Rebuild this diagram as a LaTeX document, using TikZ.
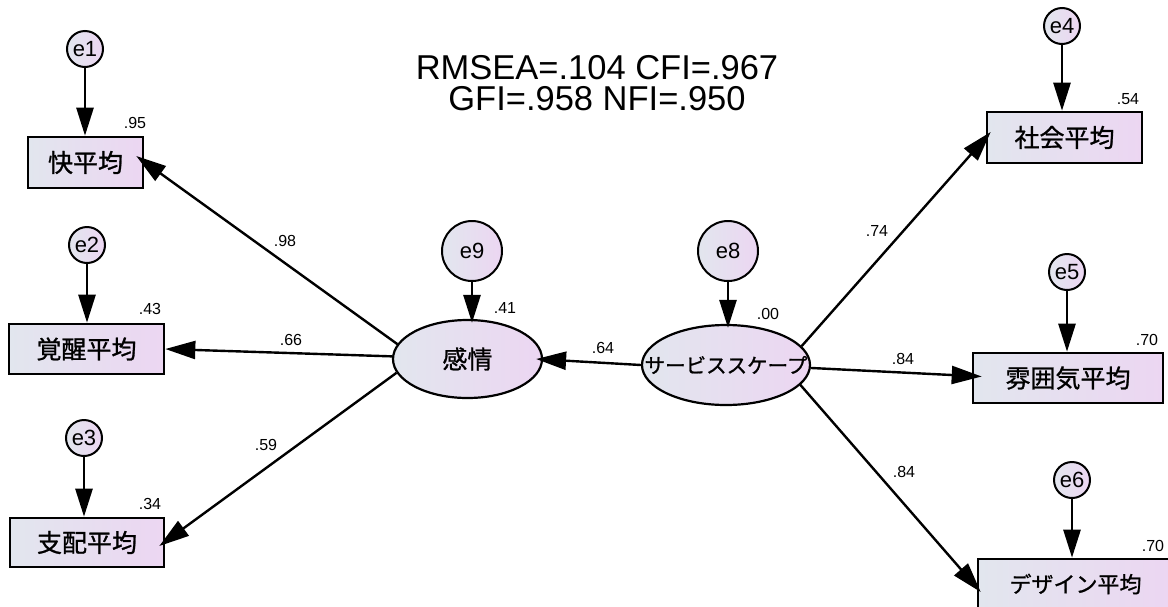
\documentclass[tikz,border=0pt]{standalone}
\usepackage{fontspec}
\setmainfont{Liberation Sans}
\newfontfamily\jp[FakeBold=1]{Noto Sans CJK JP}
\usetikzlibrary{shapes.geometric,arrows.meta,calc}
\definecolor{gL}{RGB}{226,230,238}
\definecolor{gR}{RGB}{236,214,242}
\begin{document}
\begin{tikzpicture}[x=1pt,y=-1pt,
  obs/.style={draw, line width=2.6pt, rectangle, left color=gL, right color=gR,
    inner sep=0pt, font=\jp\fontsize{25}{25}\selectfont},
  lat/.style={draw, line width=2.2pt, ellipse, left color=gL, right color=gR,
    inner sep=0pt, font=\jp\fontsize{25}{25}\selectfont},
  err/.style={draw, line width=2pt, circle, left color=gL, right color=gR,
    inner sep=0pt, minimum size=36pt, font=\fontsize{22}{22}\selectfont},
  bigerr/.style={err, minimum size=60pt},
  errarrow/.style={line width=2.6pt, -{Triangle[length=28pt,width=17pt]}},
  patharrow/.style={line width=2.4pt, -{Triangle[length=30pt,width=18pt]}},
  num/.style={font=\fontsize{16}{16}\selectfont, inner sep=0pt},
  titletext/.style={font=\fontsize{34.5}{31}\selectfont, inner sep=0pt, align=center, anchor=north},
]
\useasboundingbox[fill=white] (0,0) rectangle (1168,606);

% title
\node[titletext] (title) at (597,55) {RMSEA=.104 CFI=.967\\GFI=.958 NFI=.950};

% observed variables
\node[obs, minimum width=115pt, minimum height=51pt] (kuai) at (85.5,162.5) {快平均};
\node[obs, minimum width=155pt, minimum height=50pt] (kakusei) at (86.5,349) {覚醒平均};
\node[obs, minimum width=154pt, minimum height=49pt] (shihai) at (87,542.5) {支配平均};
\node[obs, minimum width=155pt, minimum height=51pt] (shakai) at (1064.5,137.5) {社会平均};
\node[obs, minimum width=190pt, minimum height=50pt] (fun) at (1068,378) {雰囲気平均};
\node[obs, minimum width=195pt, minimum height=50pt, font=\jp\fontsize{22}{22}\selectfont] (dezain) at (1075.5,584) {デザイン平均};

% latent variables
\node[lat, minimum width=149pt, minimum height=78pt] (kanjo) at (467.5,359) {感情};
\node[lat, minimum width=168pt, minimum height=80pt,
  label={[font=\jp\fontsize{20.5}{20.5}\selectfont, inner sep=0pt]center:サービススケープ}] (svc) at (726,365) {};

% error terms
\node[err] (e1) at (85,49) {e1};
\node[err] (e2) at (87,245) {e2};
\node[err] (e3) at (84,438) {e3};
\node[err] (e4) at (1062,26) {e4};
\node[err] (e5) at (1067,272) {e5};
\node[err] (e6) at (1072,480) {e6};
\node[bigerr] (e9) at (472,251) {e9};
\node[bigerr] (e8) at (728,251) {e8};

% error arrows
\draw[errarrow] (e1) -- (e1 |- kuai.north);
\draw[errarrow] (e2) -- (e2 |- kakusei.north);
\draw[errarrow] (e3) -- (e3 |- shihai.north);
\draw[errarrow] (e4) -- (e4 |- shakai.north);
\draw[errarrow] (e5) -- (e5 |- fun.north);
\draw[errarrow] (e6) -- (e6 |- dezain.north);
\draw[errarrow] (e9) -- ($(e9 |- kanjo.north)+(0,4)$);
\draw[errarrow] (e8) -- ($(e8 |- svc.north)+(0,4)$);

% paths
\draw[patharrow] (kanjo.168) -- ($(kuai.east)+(-8,-6.5)$);
\draw[patharrow] (kanjo.178) -- (kakusei.east);
\draw[patharrow] (kanjo.191) -- ($(shihai.east)+(-6,3.5)$);
\draw[patharrow] (svc.180) -- ($(kanjo.east)+(-7,0)$);
\draw[patharrow] (svc.14) -- ($(shakai.west)+(5,-5.5)$);
\draw[patharrow] (svc.358.6) -- ($(fun.west)+(10,-1.5)$);
\draw[patharrow] (svc.345) -- ($(dezain.west)+(4,8)$);

% numbers
\node[num] (n1) at (135,123) {.95};
\node[num] (n2) at (150,309) {.43};
\node[num] (n3) at (150,504) {.34};
\node[num] (n4) at (1128,99) {.54};
\node[num] (n5) at (1147,340) {.70};
\node[num] (n6) at (1153,546) {.70};
\node[num] (n9) at (505,308) {.41};
\node[num] (n8) at (768,314) {.00};
\node[num] (l1) at (285,241) {.98};
\node[num] (l2) at (291,340) {.66};
\node[num] (l3) at (266,445) {.59};
\node[num] (l4) at (603,348) {.64};
\node[num] (l5) at (877,231) {.74};
\node[num] (l6) at (903,359) {.84};
\node[num] (l7) at (904,472) {.84};
\end{tikzpicture}
\end{document}
